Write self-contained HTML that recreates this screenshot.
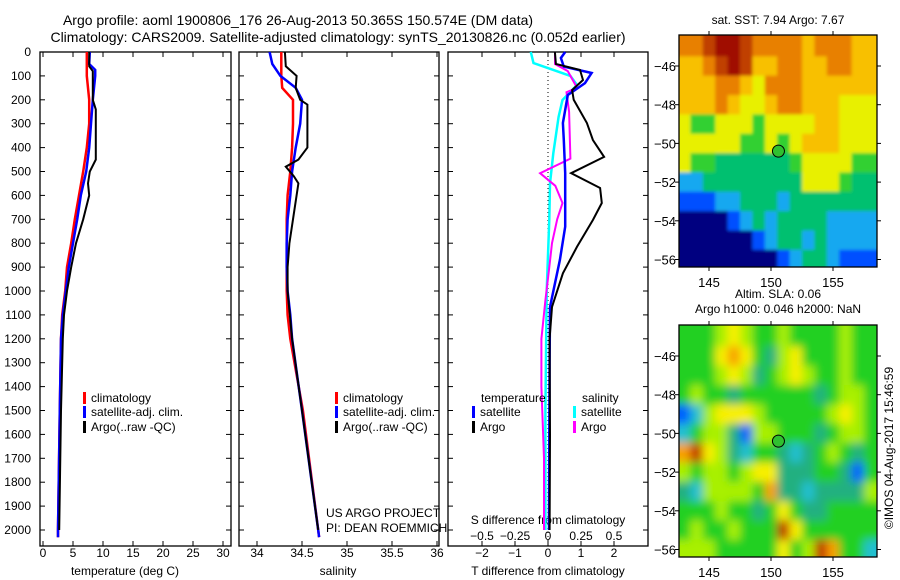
<!DOCTYPE html>
<html><head><meta charset="utf-8"><style>
body{margin:0;background:#fff}
svg{font-family:"Liberation Sans",sans-serif;display:block}
</style></head><body>
<svg id="c" width="900" height="580" viewBox="0 0 900 580"></svg>
<script>
const tempDepth=[0,100,200,300,400,500,600,700,800,900,1000,1100,1200,1500,2000,2030];
const tempClim=[7.3,7.3,7.7,7.7,7.3,6.7,6.0,5.3,4.7,4.0,3.7,3.2,3.0,2.8,2.5,2.5];
const satDepth=[0,50,75,100,200,300,400,500,600,700,800,900,1000,1100,1200,1500,2000,2030];
const tempSat=[7.8,7.7,8.7,8.7,8.3,8.0,7.7,7.2,6.3,5.7,5.0,4.3,3.8,3.3,3.0,2.8,2.5,2.5];
const argoDepth=[0,60,80,200,240,450,500,550,600,700,800,900,1000,1100,1200,1500,2000];
const tempArgo=[7.7,7.7,8.3,8.3,8.8,8.8,7.8,7.5,7.7,6.7,5.5,4.7,4.0,3.5,3.3,3.0,2.7];
const salDepth=[0,100,150,200,300,400,500,600,700,800,900,1000,1100,1200,1500,2000,2030];
const salClim=[34.27,34.27,34.28,34.40,34.40,34.39,34.37,34.34,34.33,34.33,34.33,34.33,34.34,34.37,34.51,34.68,34.69];
const salSatDepth=[0,50,100,150,200,300,400,500,600,700,800,900,1000,1100,1200,1500,2000,2030];
const salSat=[34.14,34.17,34.26,34.43,34.50,34.48,34.43,34.39,34.37,34.34,34.33,34.33,34.34,34.37,34.39,34.50,34.68,34.69];
const salArgoDepth=[0,60,100,150,200,220,400,450,480,520,550,700,800,900,1000,1200,1500,2000];
const salArgo=[34.31,34.32,34.44,34.43,34.48,34.56,34.56,34.46,34.32,34.41,34.46,34.40,34.36,34.34,34.34,34.39,34.50,34.68];
const dTSatDepth=[0,25,61,88,130,180,297,368,507,731,870,1067,1300,1600,2000];
const dTSat=[0.52,0.39,0.48,1.32,1.12,0.6,0.45,0.48,0.52,0.52,0.36,0.06,0.05,0.04,0.03];
const dTArgoDepth=[0,50,75,117,159,200,297,368,439,507,569,632,703,815,926,1067,1200,1600,2000];
const dTArgo=[0.21,0.24,0.97,1.06,0.73,0.78,1.18,1.36,1.7,0.7,1.58,1.63,1.36,0.88,0.45,0.12,0.05,0.06,0.05];
const dSArgoDepth=[0,50,80,150,168,250,446,507,560,632,700,800,900,1039,1200,1400,1700,2000];
const dSArgo=[0.053,0.053,0.15,0.22,0.14,0.16,0.17,-0.06,0.055,0.11,0.07,0.03,0.01,-0.02,-0.05,-0.05,-0.03,-0.03];
const dSSatDepth=[0,46,75,100,138,201,271,424,550,700,1000,1500,2000];
const dSSat=[-0.13,-0.11,0.04,0.17,0.22,0.11,0.08,0.04,0.015,0.01,-0.01,-0.02,-0.02];
const depthTicks=[0,100,200,300,400,500,600,700,800,900,1000,1100,1200,1300,1400,1500,1600,1700,1800,1900,2000];
const tempTicks=[0,5,10,15,20,25,30];
const salTicks=[34,34.5,35,35.5,36];
const dTTicks=[-2,-1,0,1,2];
const dSTicks=[-0.5,-0.25,0,0.25,0.5];
const lonTicks=[145,150,155];
const latTicks=[-46,-48,-50,-52,-54,-56];
const sstGrid=[
[7,7,8,9,9,8,7,7,7,7,6,7,7,7,6,6],
[6,6,7,8,9,8,6,6,7,7,6,6,7,7,6,6],
[6,6,6,7,7,6,5,7,7,7,6,6,6,6,6,6],
[6,6,6,7,6,5,5,6,7,7,6,6,6,5,5,5],
[5,4,4,5,5,5,4,5,5,5,5,6,6,5,5,5],
[5,5,5,5,5,4,4,5,4,5,6,6,6,5,5,5],
[5,4,4,3,3,3,3,3,3,4,5,5,5,5,4,4],
[2,2,3,3,3,3,3,3,3,3,5,5,5,4,3,3],
[1,1,1,2,2,3,3,3,2,3,3,3,3,3,3,3],
[0,0,0,0,1,2,3,2,3,3,3,3,2,2,2,2],
[0,0,0,0,0,0,1,2,3,3,2,3,2,2,2,2],
[0,0,0,0,0,0,0,0,1,2,3,3,2,1,1,1]];
const slaGrid=[
[4,4,4,5,6,5,4,4,5,4,4,4,4,5,4,4],
[4,4,4,6,7,6,4,3,5,6,4,4,4,5,4,4],
[4,4,4,5,6,5,3,4,5,6,5,4,4,5,4,4],
[4,5,4,4,3,4,4,4,4,4,4,3,4,5,5,4],
[1,2,5,6,6,6,5,4,4,4,4,4,5,6,5,4],
[2,4,5,5,3,1,5,5,4,4,4,3,4,5,5,4],
[7,8,6,5,3,2,4,4,3,2,3,4,5,4,3,4],
[5,4,5,5,4,5,6,6,3,3,3,4,4,3,1,4],
[3,2,5,5,5,5,4,7,3,3,2,3,3,3,3,5],
[4,4,4,5,4,4,3,4,6,4,3,3,4,4,4,4],
[4,5,4,4,5,4,4,4,8,6,4,4,4,4,4,4],
[5,5,5,4,4,4,4,4,6,4,5,8,7,4,4,2]];
const floatLon=[150.6];
const floatLat=[-50.4];
const sstColors=["#000080","#0050ff","#18a8f0","#00c070","#30d030","#e8f000","#f8c000","#e88000","#c04000","#a01000"];
const slaColors=["#0000a0","#0060ff","#20c0d0","#20b080","#20d020","#a8f000","#f8f000","#f8a000","#c03000"];

const NS="http://www.w3.org/2000/svg";
const svg=document.getElementById('c');
function mk(tag,at,parent){const e=document.createElementNS(NS,tag);for(const k in at)e.setAttribute(k,at[k]);(parent||svg).appendChild(e);return e;}
function txt(s,x,y,anchor,size,parent){const t=mk('text',{x:x,y:y,'text-anchor':anchor||'middle','font-size':size||12,fill:'#000'},parent);t.textContent=s;return t;}
const Y0=52,YS=0.239,PT=52,PB=546;
const yD=d=>Y0+d*YS;
const xT=v=>43+6*v;
const xS=v=>257+90*(v-34);
const xDT=v=>548+33*v;
const xDS=v=>548+132*v;
function frame(x1,x2,name){
  const r=mk('rect',{x:x1,y:PT,width:x2-x1,height:PB-PT,fill:'none',stroke:'#000','stroke-width':1.3});
  
  depthTicks.forEach(d=>{mk('line',{x1:x1,x2:x1+5,y1:yD(d),y2:yD(d),stroke:'#000'});mk('line',{x1:x2,x2:x2-5,y1:yD(d),y2:yD(d),stroke:'#000'});});
}
function xticks(arr,fx,labY,x1,x2,name,lab=true){
  const g=mk('g',{});
  arr.forEach(v=>{const x=fx(v);mk('line',{x1:x,x2:x,y1:PB,y2:PB-5,stroke:'#000'},g);mk('line',{x1:x,x2:x,y1:PT,y2:PT+5,stroke:'#000'},g);
    if(lab)txt(String(v).replace('-','\u2212'),x,labY,'middle',12,g);});
  return g;
}
function line(ds,vs,fx,color,w,name){
  const p=ds.map((d,i)=>(i?'L':'M')+fx(vs[i]).toFixed(1)+','+yD(d).toFixed(1)).join('');
  const e=mk('path',{d:p,fill:'none',stroke:color,'stroke-width':w,'stroke-linejoin':'miter'});
  
}
function legend(x,y,color,label,name){
  const g=mk('g',{});
  mk('rect',{x:x,y:y-10,width:3,height:12,fill:color},g);txt(label,x+8,y,'start',12,g);
}

const t1=txt('Argo profile: aoml 1900806_176 26-Aug-2013 50.365S 150.574E (DM data)',298,25,'middle',14);

const t2=txt('Climatology: CARS2009. Satellite-adjusted climatology: synTS_20130826.nc (0.052d earlier)',338,42,'middle',14);


const dl=mk('g',{});
depthTicks.forEach(d=>txt(String(d),31,yD(d)+4,'end',12,dl));

frame(40,231,'temperature-panel');
xticks(tempTicks,xT,557,40,231,'temperature-x-ticks');
let e=txt('temperature (deg C)',125,575);
line(tempDepth,tempClim,xT,'#f00',2.5,'temp-climatology-line');
line(satDepth,tempSat,xT,'#00f',2.5,'temp-satellite-line');
line(argoDepth,tempArgo,xT,'#000',2,'temp-argo-line');
legend(83,402,'#f00','climatology','legend-climatology');
legend(83,416,'#00f','satellite-adj. clim.','legend-satellite');
legend(83,431,'#000','Argo(..raw -QC)','legend-argo');

frame(239,439,'salinity-panel');
xticks(salTicks,xS,557,239,439,'salinity-x-ticks');
e=txt('salinity',338,575);
line(salDepth,salClim,xS,'#f00',2.5,'sal-climatology-line');
line(salSatDepth,salSat,xS,'#00f',2.5,'sal-satellite-line');
line(salArgoDepth,salArgo,xS,'#000',2,'sal-argo-line');
legend(335,402,'#f00','climatology','legend-climatology-2');
legend(335,416,'#00f','satellite-adj. clim.','legend-satellite-2');
legend(335,431,'#000','Argo(..raw -QC)','legend-argo-2');
e=txt('US ARGO PROJECT',326,517,'start',12);
e=txt('PI: DEAN ROEMMICH',326,532,'start',12);

frame(448,648,'difference-panel');
xticks(dTTicks,xDT,557,448,648,'t-diff-x-ticks');
const sl=mk('g',{});
dSTicks.forEach(v=>txt(String(v).replace('-','\u2212'),xDS(v),540,'middle',12,sl));
e=txt('S difference from climatology',548,524);
e=txt('T difference from climatology',548,575);
e=mk('line',{x1:548,x2:548,y1:PT,y2:PB,stroke:'#000','stroke-dasharray':'1,3'});
line(dSSatDepth,dSSat,xDS,'#0ff',2.5,'s-diff-satellite-line');
line(dSArgoDepth,dSArgo,xDS,'#f0f',2,'s-diff-argo-line');
line(dTSatDepth,dTSat,xDT,'#00f',2.5,'t-diff-satellite-line');
line(dTArgoDepth,dTArgo,xDT,'#000',2,'t-diff-argo-line');
e=txt('temperature',481,402,'start',12);
e=txt('salinity',582,402,'start',12);
legend(472,416,'#00f','satellite','legend-t-satellite');
legend(472,431,'#000','Argo','legend-t-argo');
legend(573,416,'#0ff','satellite','legend-s-satellite');
legend(573,431,'#f0f','Argo','legend-s-argo');

const MX1=679,MX2=877;
const mxL=l=>709+12.4*(l-145);
function map(top,grid,colors,blur,name,title1,title2){
  const bot=top+232;
  const myL=la=>top+31+19.35*(-46-la);
  const id='clip'+top;
  const cp=mk('clipPath',{id:id});mk('rect',{x:MX1,y:top,width:MX2-MX1,height:bot-top},cp);
  const f=mk('filter',{id:'f'+top,x:'-10%',y:'-10%',width:'120%',height:'120%'});
  mk('feGaussianBlur',{stdDeviation:blur},f);
  const outer=mk('g',{'clip-path':'url(#'+id+')'});
  const g=mk('g',{filter:'url(#f'+top+')'},outer);
  grid.forEach((row,r)=>row.forEach((v,c)=>{
    const lon=143+c,lat=-45-r;
    const x=mxL(lon-0.5)-(c==0?15:0),y=myL(lat+0.5)-(r==0?15:0);
    const w=mxL(lon+0.5)-x+(c==row.length-1?15:0)+0.5,h=myL(lat-0.5)-y+(r==grid.length-1?15:0)+0.5;
    const cell=mk('rect',{x:x,y:y,width:w,height:h,fill:colors[v]},g);
    
    
  }));
  mk('rect',{x:MX1,y:top,width:MX2-MX1,height:bot-top,fill:'none',stroke:'#000','stroke-width':1.3});
  const ax=mk('g',{});
  lonTicks.forEach(l=>{const x=mxL(l);mk('line',{x1:x,x2:x,y1:top,y2:top-4,stroke:'#000'},ax);mk('line',{x1:x,x2:x,y1:bot,y2:bot+4,stroke:'#000'},ax);txt(String(l),x,bot+20,'middle',13,ax);});
  latTicks.forEach(la=>{const y=myL(la);mk('line',{x1:MX1,x2:MX1-4,y1:y,y2:y,stroke:'#000'},ax);mk('line',{x1:MX2,x2:MX2+4,y1:y,y2:y,stroke:'#000'},ax);txt('\u2212'+(-la),MX1-3,y+5,'end',13,ax);});
  floatLon.forEach((lo,i)=>{const m=mk('circle',{cx:mxL(lo),cy:myL(floatLat[i]),r:6,fill:'#30c030',stroke:'#000','stroke-width':1});});
  let t=txt(title1,778,title2?top-27:top-11,'middle',12);
  if(title2){t=txt(title2,778,top-12,'middle',12);}
}
map(35,sstGrid,sstColors,1.5,'sst-map','sat. SST: 7.94 Argo: 7.67');
map(325,slaGrid,slaColors,4.5,'sla-map','Altim. SLA: 0.06','Argo h1000: 0.046 h2000: NaN');
e=txt('\u00a9IMOS 04-Aug-2017 15:46:59',0,0,'middle',12);
e.setAttribute('transform','translate(893,448) rotate(-90)');

</script>
</body></html>
